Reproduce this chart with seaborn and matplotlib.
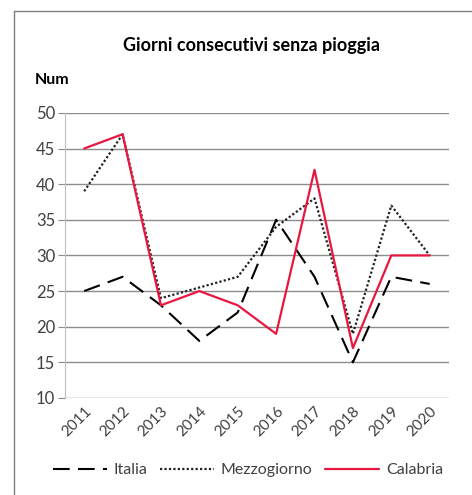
import pandas as pd
import seaborn as sns
import matplotlib.pyplot as plt
from matplotlib.lines import Line2D

anni = ['2011', '2012', '2013', '2014', '2015', '2016', '2017', '2018', '2019', '2020']
italia = [25, 27, 23, 18, 22, 35, 27, 15, 27, 26]
mezzogiorno = [39, 47, 24, 25.5, 27, 34, 38, 19, 37, 30]
calabria = [45, 47, 23, 25, 23, 19, 42, 17, 30, 30]
serie = ['Italia', 'Mezzogiorno', 'Calabria']

sns.set_style('white')
plt.rcParams['font.family'] = ['Lato', 'DejaVu Sans']

df = pd.DataFrame({'Anno': anni * 3,
                   'Num': italia + mezzogiorno + calabria,
                   'Serie': [s for s in serie for _ in anni]})

colori = {'Italia': 'black', 'Mezzogiorno': '#222222', 'Calabria': '#e8173f'}
tratti = {'Italia': (8, 4), 'Mezzogiorno': (1, 1), 'Calabria': ''}
spessori = {'Italia': 1.5, 'Mezzogiorno': 1.6, 'Calabria': 1.6}

fig = plt.figure(figsize=(4.72, 4.95), dpi=100)
ax = fig.add_axes([0.1377, 0.196, 0.8133, 0.576])

for s in serie:
    sub = df[df['Serie'] == s]
    sns.lineplot(data=sub, x='Anno', y='Num', color=colori[s], linewidth=spessori[s],
                 ax=ax, sort=False, legend=False)
    if tratti[s]:
        ax.lines[-1].set_dashes(tratti[s])

ax.set_xlim(-0.5, 9.5)
ax.set_ylim(10, 50)
ax.set_yticks(range(10, 51, 5))
ax.yaxis.grid(True, color='#8c8c8c', linewidth=1)
ax.set_axisbelow(True)
for sp in ['top', 'right', 'bottom']:
    ax.spines[sp].set_visible(False)
ax.spines['left'].set_color('#bfbfbf')
ax.tick_params(axis='y', left=True, length=5, color='#8c8c8c', labelsize=12, labelcolor='#404040', pad=2)
ax.tick_params(axis='x', bottom=False, labelsize=11, labelcolor='#404040', pad=1)
plt.setp(ax.get_xticklabels(), rotation=45, ha='right', rotation_mode='anchor')
ax.set_xlabel('')
ax.set_ylabel('')

fig.text(0.532, 0.909, 'Giorni consecutivi senza pioggia', ha='center', va='center',
         fontsize=13, fontweight='bold', color='black')
fig.text(0.074, 0.838, 'Num', ha='left', va='center', fontsize=11.5, fontweight='bold', color='black')

handles = [Line2D([], [], color=colori[s], linewidth=spessori[s]) for s in serie]
handles[0].set_dashes(tratti['Italia'])
handles[1].set_dashes(tratti['Mezzogiorno'])
fig.legend(handles, serie, loc='center', bbox_to_anchor=(0.525, 0.05), ncol=3, frameon=False,
           fontsize=11.5, handlelength=3.4, columnspacing=0.8, handletextpad=0.4)
for t in fig.legends[0].get_texts():
    t.set_color('#404040')

# cornice a sinistra e in alto
fig.add_artist(Line2D([0.03, 0.03], [0, 0.978], color='#7f7f7f', linewidth=1))
fig.add_artist(Line2D([0.03, 1.0], [0.978, 0.978], color='#7f7f7f', linewidth=1))

fig.savefig('out.png', dpi=100)
